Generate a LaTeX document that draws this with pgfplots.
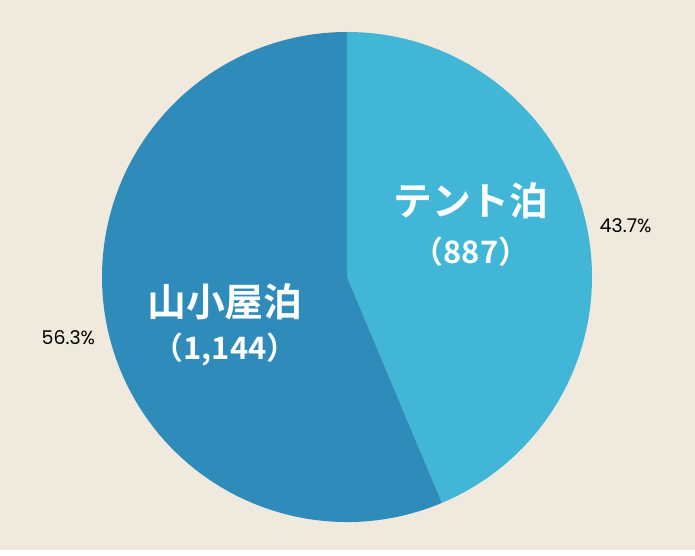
\documentclass[border=0pt]{standalone}
\usepackage{pgfplots}
\pgfplotsset{compat=1.18}
\usepackage{fontspec}
\setmainfont{Poppins}
\newfontfamily\jp{Noto Sans CJK JP}[BoldFont={Noto Sans CJK JP Bold}]
\definecolor{bg}{HTML}{F0E9DE}
\definecolor{tent}{HTML}{41B6D7}
\definecolor{hut}{HTML}{2E8BBA}

% values
\def\tentval{887}
\def\hutval{1144}

\begin{document}
\begin{tikzpicture}
  \pgfmathsetmacro{\total}{\tentval+\hutval}
  \pgfmathsetmacro{\tentfrac}{\tentval/\total}
  \pgfmathsetmacro{\hutfrac}{\hutval/\total}
  \pgfmathsetmacro{\tentangle}{360*\tentfrac}
  \pgfmathsetmacro{\splitang}{90-\tentangle}
  \pgfmathsetmacro{\tentmid}{90-\tentangle/2}
  \pgfmathsetmacro{\hutmid}{\splitang-180*\hutfrac}
  \pgfmathsetmacro{\tentpct}{100*\tentfrac}
  \pgfmathsetmacro{\hutpct}{100*\hutfrac}
  \begin{axis}[
      width=695bp, height=550bp,
      scale only axis,
      hide axis,
      clip=false,
      xmin=-1.41633, xmax=1.42041,
      ymin=-1.11429, ymax=1.13061,
    ]
    \fill[bg] (rel axis cs:0,0) rectangle (rel axis cs:1,1);
    % slices
    \fill[tent] (axis cs:0,0) -- (axis cs:0,1)
      arc[start angle=90, end angle=\splitang, radius=245bp] -- cycle;
    \fill[hut] (axis cs:0,0) -- (axis cs:{cos(\splitang)},{sin(\splitang)})
      arc[start angle=\splitang, end angle=-270, radius=245bp] -- cycle;
    % labels inside
    \node[text=white, font=\jp\bfseries\fontsize{39}{40}\selectfont]
      at (axis cs:0.506,0.310) {テント泊};
    \node[text=white, font=\jp\bfseries\fontsize{31}{32}\selectfont]
      at (axis cs:0.506,0.102) {（887）};
    \node[text=white, font=\jp\bfseries\fontsize{39}{40}\selectfont]
      at (axis cs:-0.498,-0.102) {山小屋泊};
    \node[text=white, font=\jp\bfseries\fontsize{31}{32}\selectfont]
      at (axis cs:-0.498,-0.298) {（1,144）};
    % percentages outside
    \node[font=\fontsize{19}{20}\selectfont, yshift=-5bp]
      at (axis cs:{1.16*cos(\tentmid)},{1.16*sin(\tentmid)})
      {\pgfmathprintnumber[fixed,precision=1,fixed zerofill,assume math mode=true]{\tentpct}\%};
    \node[font=\fontsize{19}{20}\selectfont, yshift=-4bp]
      at (axis cs:{1.16*cos(\hutmid)},{1.16*sin(\hutmid)})
      {\pgfmathprintnumber[fixed,precision=1,fixed zerofill,assume math mode=true]{\hutpct}\%};
  \end{axis}
\end{tikzpicture}
\end{document}
